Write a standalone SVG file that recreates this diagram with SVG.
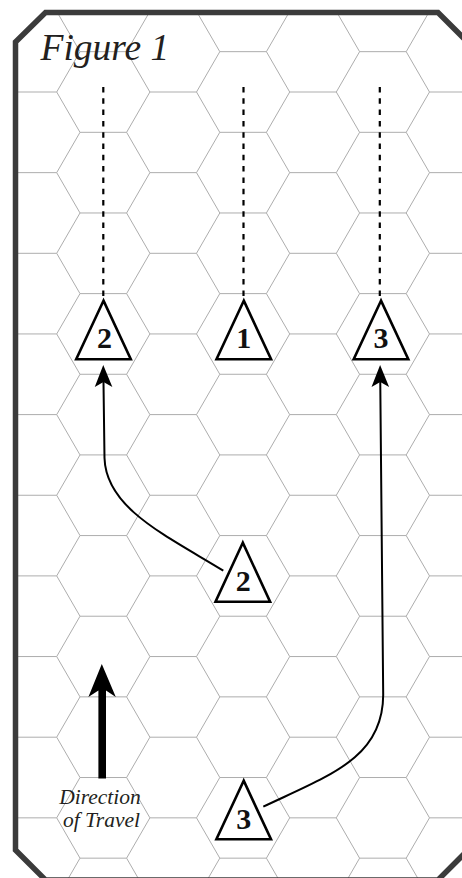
<svg xmlns="http://www.w3.org/2000/svg" xmlns:xlink="http://www.w3.org/1999/xlink" width="462" height="878" viewBox="0 0 462 878">
  <style>
    .grid use { fill: none; stroke: #adadad; stroke-width: 1; }
    .frame { fill: none; stroke: #3b3b3b; stroke-width: 5.5; stroke-linejoin: miter; }
    .title { font-family: "Liberation Serif", "Times New Roman", serif; font-style: italic; font-size: 37.5px; fill: #231f20; }
    .unit polygon { fill: #ffffff; stroke: #000000; stroke-width: 2.6; stroke-linejoin: miter; }
    .unit text { font-family: "Liberation Serif", "Times New Roman", serif; font-weight: bold; font-size: 30px; fill: #111111; text-anchor: middle; }
    .path-dash { stroke: #000000; stroke-width: 2.2; stroke-dasharray: 5.5 5.8; fill: none; }
    .move { stroke: #000000; stroke-width: 2; fill: none; marker-end: url(#head); }
    .dir-label { font-family: "Liberation Serif", "Times New Roman", serif; font-style: italic; font-size: 21.5px; fill: #231f20; text-anchor: middle; }
  </style>
  <defs>
    <!-- upper half outline of a flat-topped hex; adjacent cells supply the rest -->
    <path id="h" d="M-46.6,0 L-23.3,-40.33 L23.3,-40.33 L46.6,0"/>
    <clipPath id="inside">
      <path d="M15.5,42 L45.5,12.5 L438,12.5 L468,42.5 L468,850 L438,880 L45.5,880 L15.5,850 Z"/>
    </clipPath>
    <marker id="head" markerUnits="userSpaceOnUse" orient="auto" overflow="visible" markerWidth="30" markerHeight="20" refX="0" refY="0">
      <path d="M10,0 L-12,-8.8 L-7,0 L-12,8.8 Z" fill="#000000"/>
    </marker>
  </defs>

  <rect width="462" height="878" fill="#ffffff"/>

  <!-- hex grid -->
  <g id="hexgrid" class="grid" clip-path="url(#inside)">
    <use href="#h" x="103.3" y="11.35"/><use href="#h" x="103.3" y="92"/><use href="#h" x="103.3" y="172.65"/><use href="#h" x="103.3" y="253.3"/><use href="#h" x="103.3" y="333.95"/><use href="#h" x="103.3" y="414.6"/><use href="#h" x="103.3" y="495.25"/><use href="#h" x="103.3" y="575.9"/><use href="#h" x="103.3" y="656.55"/><use href="#h" x="103.3" y="737.2"/><use href="#h" x="103.3" y="817.85"/><use href="#h" x="103.3" y="898.5"/>
    <use href="#h" x="243.1" y="11.35"/><use href="#h" x="243.1" y="92"/><use href="#h" x="243.1" y="172.65"/><use href="#h" x="243.1" y="253.3"/><use href="#h" x="243.1" y="333.95"/><use href="#h" x="243.1" y="414.6"/><use href="#h" x="243.1" y="495.25"/><use href="#h" x="243.1" y="575.9"/><use href="#h" x="243.1" y="656.55"/><use href="#h" x="243.1" y="737.2"/><use href="#h" x="243.1" y="817.85"/><use href="#h" x="243.1" y="898.5"/>
    <use href="#h" x="382.9" y="11.35"/><use href="#h" x="382.9" y="92"/><use href="#h" x="382.9" y="172.65"/><use href="#h" x="382.9" y="253.3"/><use href="#h" x="382.9" y="333.95"/><use href="#h" x="382.9" y="414.6"/><use href="#h" x="382.9" y="495.25"/><use href="#h" x="382.9" y="575.9"/><use href="#h" x="382.9" y="656.55"/><use href="#h" x="382.9" y="737.2"/><use href="#h" x="382.9" y="817.85"/><use href="#h" x="382.9" y="898.5"/>
    <use href="#h" x="33.4" y="51.68"/><use href="#h" x="33.4" y="132.33"/><use href="#h" x="33.4" y="212.98"/><use href="#h" x="33.4" y="293.63"/><use href="#h" x="33.4" y="374.28"/><use href="#h" x="33.4" y="454.93"/><use href="#h" x="33.4" y="535.58"/><use href="#h" x="33.4" y="616.23"/><use href="#h" x="33.4" y="696.88"/><use href="#h" x="33.4" y="777.53"/><use href="#h" x="33.4" y="858.18"/>
    <use href="#h" x="173.2" y="51.68"/><use href="#h" x="173.2" y="132.33"/><use href="#h" x="173.2" y="212.98"/><use href="#h" x="173.2" y="293.63"/><use href="#h" x="173.2" y="374.28"/><use href="#h" x="173.2" y="454.93"/><use href="#h" x="173.2" y="535.58"/><use href="#h" x="173.2" y="616.23"/><use href="#h" x="173.2" y="696.88"/><use href="#h" x="173.2" y="777.53"/><use href="#h" x="173.2" y="858.18"/>
    <use href="#h" x="313" y="51.68"/><use href="#h" x="313" y="132.33"/><use href="#h" x="313" y="212.98"/><use href="#h" x="313" y="293.63"/><use href="#h" x="313" y="374.28"/><use href="#h" x="313" y="454.93"/><use href="#h" x="313" y="535.58"/><use href="#h" x="313" y="616.23"/><use href="#h" x="313" y="696.88"/><use href="#h" x="313" y="777.53"/><use href="#h" x="313" y="858.18"/>
    <use href="#h" x="452.8" y="51.68"/><use href="#h" x="452.8" y="132.33"/><use href="#h" x="452.8" y="212.98"/><use href="#h" x="452.8" y="293.63"/><use href="#h" x="452.8" y="374.28"/><use href="#h" x="452.8" y="454.93"/><use href="#h" x="452.8" y="535.58"/><use href="#h" x="452.8" y="616.23"/><use href="#h" x="452.8" y="696.88"/><use href="#h" x="452.8" y="777.53"/><use href="#h" x="452.8" y="858.18"/>
  </g>

  <!-- frame with clipped corners -->
  <path class="frame" d="M15.5,42 L45.5,12.5 L438,12.5 L468,42.5 L468,850 L438,880 L45.5,880 L15.5,850 Z"/>

  <text class="title" x="40.5" y="60">Figure 1</text>

  <!-- connectors -->
  <g id="connectors">
    <line class="path-dash" x1="103.3" y1="87" x2="103.3" y2="299"/>
    <line class="path-dash" x1="243.5" y1="87" x2="243.5" y2="299"/>
    <line class="path-dash" x1="379.8" y1="87" x2="379.8" y2="299"/>
    <path class="move" d="M223.3,570.7 C165,535 106,508 104.5,458 L103.4,375"/>
    <path class="move" d="M263.3,806.7 C330,775 383,758 383.2,695 L380.2,375"/>
  </g>

  <!-- units -->
  <g id="unit-2-front" class="unit">
    <polygon points="103.5,300.7 76.2,359.3 130.8,359.3"/>
    <text x="104.5" y="348">2</text>
  </g>
  <g id="unit-1-front" class="unit">
    <polygon points="243.8,300.7 216.5,359.3 271.1,359.3"/>
    <text x="243.8" y="348">1</text>
  </g>
  <g id="unit-3-front" class="unit">
    <polygon points="381,300.7 353.7,359.3 408.3,359.3"/>
    <text x="381" y="348">3</text>
  </g>
  <g id="unit-2-start" class="unit">
    <polygon points="242.8,542.7 215.5,601.7 270.1,601.7"/>
    <text x="243.3" y="590.5">2</text>
  </g>
  <g id="unit-3-start" class="unit">
    <polygon points="243.7,780.7 216.4,839.3 271,839.3"/>
    <text x="243.7" y="828.5">3</text>
  </g>

  <!-- direction of travel -->
  <g id="direction">
    <path d="M101.8,664 L115.8,697 L106,690.5 L106,778.5 L98.4,778.5 L98.4,690.5 L88.4,697 Z" fill="#000000"/>
    <text class="dir-label" x="100" y="803.5">Direction</text>
    <text class="dir-label" x="101.5" y="827">of Travel</text>
  </g>
</svg>
